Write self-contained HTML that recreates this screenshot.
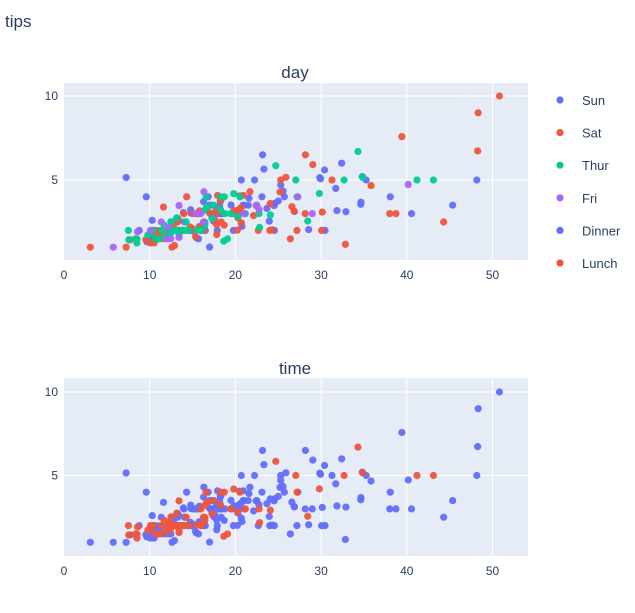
<!DOCTYPE html>
<html><head><meta charset="utf-8"><style>
body{margin:0;background:#fff;width:635px;height:608px;overflow:hidden;font-family:"Liberation Sans",sans-serif}
text{font-family:"Liberation Sans",sans-serif;fill:#2a3f5f}
</style></head><body>
<svg id="s" width="635" height="608" xmlns="http://www.w3.org/2000/svg">
<text x="5" y="27" font-size="17" style="fill:#2a3f5f">tips</text>
<rect x="64" y="83" width="464" height="177" fill="#e5ecf6"/>
<rect x="64" y="378" width="464" height="178" fill="#e5ecf6"/>
<g id="grid" stroke="#fff" stroke-width="1"></g>
<text x="295" y="78" font-size="17" text-anchor="middle">day</text>
<text x="295" y="374" font-size="17" text-anchor="middle">time</text>
<g id="lab" font-size="12"></g>
<g id="pts"></g>
<g id="leg" font-size="13"></g>
</svg>
<script>
var S="Sun",A="Sat",T="Thur",F="Fri",D="Dinner",L="Lunch";
var raw=[
[S,D,"16.99,1.01 10.34,1.66 21.01,3.5 23.68,3.31 24.59,3.61 25.29,4.71 8.77,2.0 26.88,3.12 15.04,1.96 14.78,3.23 10.27,1.71 35.26,5.0 15.42,1.57 18.43,3.0 14.83,3.02 21.58,3.92 10.33,1.67 16.29,3.71 16.97,3.5"],
[A,D,"20.65,3.35 17.92,4.08 20.29,2.75 15.77,2.23 39.42,7.58 19.82,3.18 17.81,2.34 13.37,2.0 12.69,2.0 21.7,4.3 19.65,3.0 9.55,1.45 18.35,2.5 15.06,3.0 20.69,2.45 17.78,3.27 24.06,3.6 16.31,2.0 16.93,3.07 18.69,2.31 31.27,5.0 16.04,2.24"],
[S,D,"17.46,2.54 13.94,3.06 9.68,1.32 30.4,5.6 18.29,3.0 22.23,5.0 32.4,6.0 28.55,2.05 18.04,3.0 12.54,2.5 10.29,2.6 34.81,5.2 9.94,1.56 25.56,4.34 19.49,3.51"],
[A,D,"38.01,3.0 26.41,1.5 11.24,1.76 48.27,6.73 20.29,3.21 13.81,2.0 11.02,1.98 18.29,3.76 17.59,2.64 20.08,3.15 16.45,2.47 3.07,1.0 20.23,2.01 15.01,2.09 12.02,1.97 17.07,3.0 26.86,3.14 25.28,5.0 14.73,2.2 10.51,1.25 17.92,3.08"],
[T,L,"27.2,4.0 22.76,3.0 17.29,2.71 19.44,3.0 16.66,3.4 10.07,1.83 32.68,5.0 15.98,2.03 34.83,5.17 13.03,2.0 18.28,4.0 24.71,5.85 21.16,3.0"],
[F,D,"28.97,3.0 22.49,3.5 5.75,1.0 16.32,4.3 22.75,3.25 40.17,4.73 27.28,4.0 12.03,1.5 21.01,3.0 12.46,1.5 11.35,2.5 15.38,3.0"],
[A,D,"44.3,2.5 22.42,3.48 20.92,4.08 15.36,1.64 20.49,4.06 25.21,4.29 18.24,3.76 14.31,4.0 14.0,3.0 7.25,1.0"],
[S,D,"38.07,4.0 23.95,2.55 25.71,4.0 17.31,3.5 29.93,5.07"],
[T,L,"10.65,1.5 12.43,1.8 24.08,2.92 11.69,2.31 13.42,1.68 14.26,2.5 15.95,2.0 12.48,2.52 29.8,4.2 8.52,1.48 14.52,2.0 11.38,2.0 22.82,2.18 19.08,1.5 20.27,2.83 11.17,1.5 12.26,2.0 18.26,3.25 8.51,1.25 10.33,2.0 14.15,2.0 16.0,2.0 13.16,2.75 17.47,3.5 34.3,6.7 41.19,5.0 27.05,5.0 16.43,2.3 8.35,1.5 18.64,1.36 11.87,1.63 9.78,1.73 7.51,2.0"],
[S,D,"14.07,2.5 13.13,2.0 17.26,2.74 24.55,2.0 19.77,2.0 29.85,5.14 48.17,5.0 25.0,3.75 13.39,2.61 16.49,2.0 21.5,3.5 12.66,2.5 16.21,2.0 13.81,2.0 17.51,3.0 24.52,3.48 20.76,2.24 31.71,4.5"],
[A,D,"10.59,1.61 10.63,2.0 50.81,10.0 15.81,3.16"],
[S,D,"7.25,5.15 31.85,3.18 16.82,4.0 32.9,3.11 17.89,2.0 14.48,2.0 9.6,4.0 34.63,3.55 34.65,3.68 23.33,5.65 45.35,3.5 23.17,6.5 40.55,3.0 20.69,5.0 20.9,3.5 30.46,2.0 18.15,3.5 23.1,4.0 15.69,1.5"],
[T,L,"19.81,4.19 28.44,2.56 15.48,2.02 16.58,4.0 7.56,1.44 10.34,2.0 43.11,5.0 13.0,2.0 13.51,2.0 18.71,4.0 12.74,2.01 13.0,2.0 16.4,2.5 20.53,4.0 16.47,3.23"],
[A,D,"26.59,3.41 38.73,3.0 24.27,2.03 12.76,2.23 30.06,2.0 25.89,5.16 48.33,9.0 13.27,2.5 28.17,6.5 12.9,1.1 28.15,3.0 11.59,1.5 7.74,1.44 30.14,3.09"],
[F,L,"12.16,2.2 13.42,3.48 8.58,1.92 15.98,3.0 13.42,1.58 16.27,2.5 10.09,2.0"],
[A,D,"20.45,3.0 13.28,2.72 22.12,2.88 24.01,2.0 15.69,3.0 11.61,3.39 10.77,1.47 15.53,3.0 10.07,1.25 12.6,1.0 32.83,1.17 35.83,4.67 29.03,5.92 27.18,2.0 22.67,2.0 17.82,1.75"],
[T,D,"18.78,3.0"]];
var rows=[];raw.forEach(function(g){g[2].split(" ").forEach(function(p){var v=p.split(",");rows.push([+v[0],+v[1],g[0],g[1]]);});});
var col={Sun:"#636efa",Sat:"#EF553B",Thur:"#00cc96",Fri:"#ab63fa",Dinner:"#636efa",Lunch:"#EF553B"};
var NS="http://www.w3.org/2000/svg";
function el(p,t,a,txt){var e=document.createElementNS(NS,t);for(var k in a)e.setAttribute(k,a[k]);if(txt)e.textContent=txt;document.getElementById(p).appendChild(e);}
function X(v){return 64+8.57*v;}
var panels=[{y0:264,k:16.8,top:83,bot:260},{y0:559,k:16.7,top:378,bot:556}];
panels.forEach(function(P){
 [10,20,30,40,50].forEach(function(v){el("grid","line",{x1:X(v),x2:X(v),y1:P.top,y2:P.bot});});
 [5,10].forEach(function(v){var y=P.y0-P.k*v;el("grid","line",{x1:64,x2:528,y1:y,y2:y});el("lab","text",{x:58,y:y+4,"text-anchor":"end"},String(v));});
 [0,10,20,30,40,50].forEach(function(v){el("lab","text",{x:X(v),y:P.bot+19,"text-anchor":"middle"},String(v));});
});
["Sun","Sat","Thur","Fri"].forEach(function(d){rows.forEach(function(r){if(r[2]==d)el("pts","circle",{cx:X(r[0]),cy:264-16.8*r[1],r:3.6,fill:col[d],"fill-opacity":0.95});});});
["Dinner","Lunch"].forEach(function(d){rows.forEach(function(r){if(r[3]==d)el("pts","circle",{cx:X(r[0]),cy:559-16.7*r[1],r:3.6,fill:col[d],"fill-opacity":0.95});});});
["Sun","Sat","Thur","Fri","Dinner","Lunch"].forEach(function(n,i){var y=100+32.6*i;el("leg","circle",{cx:560,cy:y,r:3.6,fill:col[n]});el("leg","text",{x:582,y:y+5},n);});
</script>
</body></html>
